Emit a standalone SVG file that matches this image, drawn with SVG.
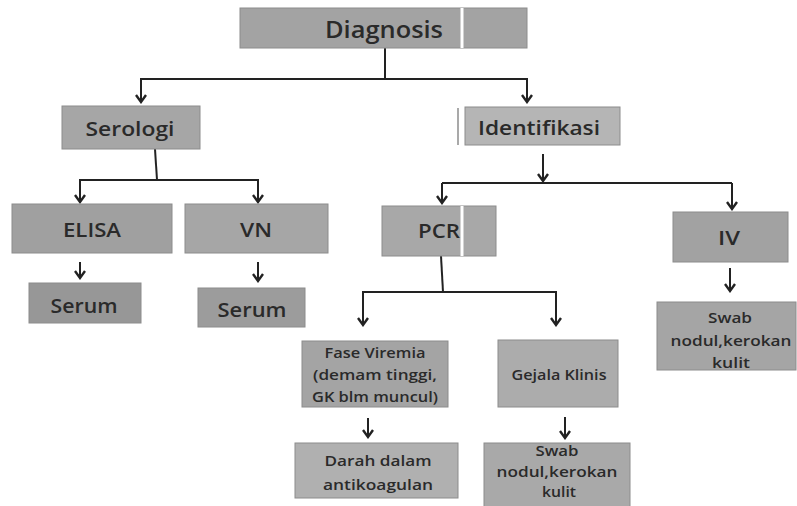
<svg xmlns="http://www.w3.org/2000/svg" width="797" height="506" viewBox="0 0 797 506">
<style>
.box{stroke:#8c8c8c;stroke-width:1}
.t{font-family:"Open Sans","Liberation Sans",sans-serif;font-weight:600;fill:#2a2a2a;text-anchor:middle}
.lg{font-size:23px}
.md{font-size:19px}
.sm{font-size:14px}
.c{fill:none;stroke:#222;stroke-width:2}
.split{stroke:#fff;stroke-width:3}
</style>
<defs>
<marker id="ah" viewBox="0 0 12 12" refX="10" refY="6" markerWidth="12" markerHeight="12" markerUnits="userSpaceOnUse" orient="auto">
<path d="M3,1 L10,6 L3,11" fill="none" stroke="#222" stroke-width="2.4"/>
</marker>
</defs>
<rect width="797" height="506" fill="#fff"/>
<g id="connectors">
<path class="c" d="M385,48 V79"/>
<path class="c" d="M385,79 H141 V102" marker-end="url(#ah)"/>
<path class="c" d="M385,79 H527 V102" marker-end="url(#ah)"/>
<path class="c" d="M155,149 L157,180"/>
<path class="c" d="M157,180 H80 V202" marker-end="url(#ah)"/>
<path class="c" d="M157,180 H258 V202" marker-end="url(#ah)"/>
<path class="c" d="M80,262 V278" marker-end="url(#ah)"/>
<path class="c" d="M258,262 V281" marker-end="url(#ah)"/>
<path class="c" d="M543,154 V181" marker-end="url(#ah)"/>
<path class="c" d="M442,183 H732"/>
<path class="c" d="M442,183 V203" marker-end="url(#ah)"/>
<path class="c" d="M732,183 V209" marker-end="url(#ah)"/>
<path class="c" d="M441,256 L443,292"/>
<path class="c" d="M443,292 H363 V325" marker-end="url(#ah)"/>
<path class="c" d="M443,292 H556 V325" marker-end="url(#ah)"/>
<path class="c" d="M368,418 V437" marker-end="url(#ah)"/>
<path class="c" d="M565,417 V438" marker-end="url(#ah)"/>
<path class="c" d="M730,268 V291" marker-end="url(#ah)"/>
</g>
<g id="diagnosis">
<rect class="box" x="240" y="8" width="287" height="40" fill="#a3a3a3"/>
<line class="split" x1="462" y1="8" x2="462" y2="48"/>
<text class="t lg" x="384" y="38" textLength="118" lengthAdjust="spacingAndGlyphs" font-weight="700">Diagnosis</text>
</g>
<g id="serologi">
<rect class="box" x="62" y="106" width="138" height="43" fill="#a6a6a6"/>
<text class="t md" x="130" y="136" textLength="89" lengthAdjust="spacingAndGlyphs">Serologi</text>
</g>
<g id="elisa">
<rect class="box" x="12" y="204" width="160" height="49" fill="#a0a0a0"/>
<text class="t md" x="92" y="237" textLength="58" lengthAdjust="spacingAndGlyphs">ELISA</text>
</g>
<g id="vn">
<rect class="box" x="185" y="204" width="143" height="49" fill="#a6a6a6"/>
<text class="t md" x="256" y="237" textLength="32" lengthAdjust="spacingAndGlyphs">VN</text>
</g>
<g id="serum1">
<rect class="box" x="29" y="283" width="112" height="40" fill="#979797"/>
<text class="t md" x="84" y="313" textLength="67" lengthAdjust="spacingAndGlyphs">Serum</text>
</g>
<g id="serum2">
<rect class="box" x="198" y="288" width="107" height="39" fill="#9c9c9c"/>
<text class="t md" x="252" y="317" textLength="69" lengthAdjust="spacingAndGlyphs">Serum</text>
</g>
<g id="identifikasi">
<rect class="box" x="465" y="107" width="155" height="38" fill="#b5b5b5"/>
<line x1="458" y1="108" x2="458" y2="145" stroke="#8c8c8c" stroke-width="1.5"/>
<text class="t md" x="539" y="135" textLength="122" lengthAdjust="spacingAndGlyphs" font-weight="500">Identifikasi</text>
</g>
<g id="pcr">
<rect class="box" x="382" y="206" width="114" height="50" fill="#a8a8a8"/>
<line class="split" x1="462" y1="206" x2="462" y2="256"/>
<text class="t md" x="439" y="238" textLength="42" lengthAdjust="spacingAndGlyphs">PCR</text>
</g>
<g id="iv">
<rect class="box" x="673" y="212" width="115" height="50" fill="#a2a2a2"/>
<text class="t md" x="729" y="245" textLength="22" lengthAdjust="spacingAndGlyphs">IV</text>
</g>
<g id="fase">
<rect class="box" x="302" y="341" width="146" height="66" fill="#a4a4a4"/>
<text class="t sm" x="375" y="358" textLength="101" lengthAdjust="spacingAndGlyphs">Fase Viremia</text>
<text class="t sm" x="375" y="380" textLength="124" lengthAdjust="spacingAndGlyphs">(demam tinggi,</text>
<text class="t sm" x="375" y="402" textLength="126" lengthAdjust="spacingAndGlyphs">GK blm muncul)</text>
</g>
<g id="gejala">
<rect class="box" x="498" y="340" width="120" height="67" fill="#acacac"/>
<text class="t sm" x="559" y="380" textLength="95" lengthAdjust="spacingAndGlyphs">Gejala Klinis</text>
</g>
<g id="darah">
<rect class="box" x="295" y="443" width="163" height="55" fill="#b0b0b0"/>
<text class="t sm" x="378" y="466" textLength="107" lengthAdjust="spacingAndGlyphs">Darah dalam</text>
<text class="t sm" x="378" y="490" textLength="110" lengthAdjust="spacingAndGlyphs">antikoagulan</text>
</g>
<g id="swab2">
<rect class="box" x="484" y="443" width="146" height="70" fill="#a9a9a9"/>
<text class="t sm" x="557" y="456" textLength="43" lengthAdjust="spacingAndGlyphs">Swab</text>
<text class="t sm" x="557" y="477" textLength="121" lengthAdjust="spacingAndGlyphs">nodul,kerokan</text>
<text class="t sm" x="559" y="497" textLength="34" lengthAdjust="spacingAndGlyphs">kulit</text>
</g>
<g id="swab3">
<rect class="box" x="657" y="302" width="139" height="68" fill="#a5a5a5"/>
<text class="t sm" x="730" y="323" textLength="44" lengthAdjust="spacingAndGlyphs">Swab</text>
<text class="t sm" x="731" y="346" textLength="121" lengthAdjust="spacingAndGlyphs">nodul,kerokan</text>
<text class="t sm" x="731" y="368" textLength="38" lengthAdjust="spacingAndGlyphs">kulit</text>
</g>
</svg>
